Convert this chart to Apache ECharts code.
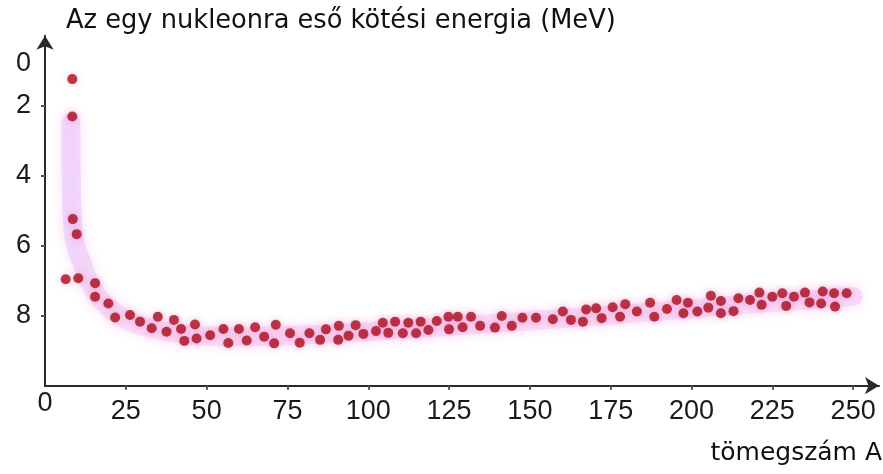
<!DOCTYPE html>
<html>
<head>
<meta charset="utf-8">
<title>Kötési energia</title>
<script src="https://cdn.jsdelivr.net/npm/echarts@6/dist/echarts.min.js"></script>
<style>
  html, body { margin: 0; padding: 0; background: #ffffff; }
  #chart { width: 883px; height: 474px; }
</style>
</head>
<body>
<div id="chart"></div>
<script>
// Mass number A of each plotted nucleus
const massNumbers = [
  6.4, 10.3, 8.45, 8.45, 8.6, 9.8, 15.5, 15.5, 19.6, 21.7,
  26.3, 29.4, 33.0, 34.9, 37.6, 39.9, 42.1, 43.1, 46.4, 46.9,
  51.1, 55.2, 56.7, 60.0, 62.4, 65.0, 67.8, 70.9, 71.4, 75.8,
  78.8, 81.8, 85.1, 86.9, 90.7, 90.9, 93.9, 96.1, 98.5, 102.4,
  104.5, 106.2, 108.3, 110.7, 112.4, 114.8, 116.2, 118.6, 121.2, 124.8,
  125.0, 127.7, 129.2, 131.8, 134.6, 139.2, 141.3, 144.4, 147.7, 151.9,
  157.1, 160.2, 162.7, 166.4, 167.4, 170.5, 172.2, 175.6, 177.9, 179.5,
  183.1, 187.2, 188.5, 192.4, 195.4, 197.5, 198.9, 201.8, 205.2, 206.0,
  209.1, 209.1, 213.0, 214.5, 218.1, 221.0, 221.7, 225.0, 228.1, 229.3,
  231.7, 235.1, 236.5, 240.1, 240.6, 244.1, 244.4, 248.0
];
// Binding energy per nucleon (MeV), same order as massNumbers
const bindingEnergy = [
  6.96, 6.93, 1.24, 2.31, 5.24, 5.67, 7.07, 7.46, 7.65, 8.05,
  7.98, 8.17, 8.36, 8.03, 8.46, 8.12, 8.38, 8.72, 8.25, 8.65,
  8.56, 8.38, 8.78, 8.38, 8.71, 8.33, 8.60, 8.79, 8.26, 8.50,
  8.77, 8.50, 8.69, 8.39, 8.69, 8.29, 8.57, 8.27, 8.52, 8.44,
  8.20, 8.49, 8.17, 8.50, 8.20, 8.50, 8.17, 8.41, 8.15, 8.03,
  8.39, 8.03, 8.33, 8.03, 8.29, 8.34, 8.01, 8.29, 8.06, 8.06,
  8.10, 7.88, 8.12, 8.17, 7.82, 7.79, 8.07, 7.76, 8.03, 7.67,
  7.88, 7.63, 8.03, 7.81, 7.55, 7.93, 7.63, 7.88, 7.77, 7.43,
  7.58, 7.93, 7.87, 7.50, 7.55, 7.34, 7.69, 7.46, 7.36, 7.72,
  7.46, 7.34, 7.62, 7.65, 7.31, 7.36, 7.74, 7.36
];
// Smooth trend band drawn behind the points
const trendA = [8.0, 8.1, 8.4, 9.0, 10.0, 11.5, 13.0, 16.0, 20.0, 25.0, 30.0, 40.0, 50.0, 60.0, 75.0, 100.0, 125.0, 150.0, 175.0, 200.0, 225.0, 250.0];
const trendE = [2.5, 4.0, 5.2, 5.8, 6.15, 6.5, 6.9, 7.4, 7.8, 8.1, 8.3, 8.5, 8.58, 8.6, 8.57, 8.45, 8.3, 8.15, 7.98, 7.8, 7.62, 7.45];

// Axis tick labels
const xTickLabels = [0, 25, 50, 75, 100, 125, 150, 175, 200, 225, 250];
const yTickLabels = [0, 2, 4, 6, 8];
const yTicks = [2, 4, 6, 8];

const yTitle = 'Az egy nukleonra eső kötési energia (MeV)';
const xTitle = 'tömegszám A';

const points = massNumbers.map((a, i) => [a, bindingEnergy[i]]);
const trend = trendA.map((a, i) => [a, trendE[i]]);

const labelFont = 'Liberation Sans';
const titleFont = 'DejaVu Sans';
const labelColor = '#1a1a1a';

const chart = echarts.init(document.getElementById('chart'), null, { renderer: 'canvas' });

chart.setOption({
  backgroundColor: '#ffffff',
  animation: false,
  grid: { left: 45, right: 4, top: 35.7, bottom: 88.3, containLabel: false },
  xAxis: {
    type: 'value',
    position: 'bottom',
    min: 0,
    max: 258,
    interval: 25,
    splitLine: { show: false },
    axisLine: {
      show: true,
      onZero: false,
      lineStyle: { color: '#2a2a2a', width: 2 },
      symbol: ['none', 'arrow'],
      symbolSize: [13, 14]
    },
    axisTick: {
      show: true,
      length: 4,
      customValues: xTickLabels.filter(v => v > 0),
      lineStyle: { color: '#555', width: 2 }
    },
    axisLabel: {
      show: true,
      customValues: xTickLabels,
      margin: 4,
      color: labelColor,
      fontFamily: labelFont,
      fontSize: 27,
      // the origin label sits a little higher than the others
      formatter: v => (v === 0 ? '{zero|0}' : '{num|' + v + '}'),
      rich: {
        zero: { fontFamily: labelFont, fontSize: 27, color: labelColor, padding: [0, 0, 0, 0] },
        num: { fontFamily: labelFont, fontSize: 27, color: labelColor, padding: [8, 0, 0, 0] }
      }
    }
  },
  yAxis: {
    type: 'value',
    inverse: true,
    min: 0,
    max: 10,
    interval: 2,
    splitLine: { show: false },
    axisLine: {
      show: true,
      onZero: false,
      lineStyle: { color: '#2a2a2a', width: 2 },
      symbol: ['none', 'arrow'],
      symbolSize: [13, 14]
    },
    axisTick: {
      show: true,
      length: 4,
      customValues: yTicks,
      lineStyle: { color: '#555', width: 2 }
    },
    axisLabel: {
      show: true,
      customValues: yTickLabels,
      margin: 14,
      color: labelColor,
      fontFamily: labelFont,
      fontSize: 27,
      formatter: v => (v === 0 ? '{zero|0}' : String(v)),
      rich: {
        zero: { fontFamily: labelFont, fontSize: 27, color: labelColor, padding: [56, 0, 0, 0] }
      }
    }
  },
  series: [
    {
      type: 'line',
      data: trend,
      smooth: 0.4,
      symbol: 'none',
      silent: true,
      z: 1,
      lineStyle: {
        width: 19,
        cap: 'round',
        join: 'round',
        opacity: 0.6,
        color: new echarts.graphic.LinearGradient(0, 0, 0, 1, [
          { offset: 0, color: '#eac6fb' },
          { offset: 0.6, color: '#ebc8f9' },
          { offset: 0.85, color: '#f8cdf1' },
          { offset: 1, color: '#facdf0' }
        ]),
        shadowBlur: 12,
        shadowColor: 'rgba(240, 190, 245, 0.8)'
      }
    },
    {
      type: 'scatter',
      data: points,
      symbol: 'circle',
      symbolSize: 10,
      z: 3,
      itemStyle: {
        color: '#a90d1c',
        shadowBlur: 7,
        shadowColor: 'rgba(235, 70, 160, 0.45)'
      }
    }
  ],
  graphic: [
    {
      type: 'text',
      left: 66,
      top: 8,
      style: { text: yTitle, fontFamily: titleFont, fontSize: 25.7, fill: '#111111' }
    },
    {
      type: 'text',
      right: 1,
      top: 441,
      style: { text: xTitle, fontFamily: titleFont, fontSize: 25, fill: '#111111' }
    }
  ]
});
</script>
</body>
</html>
